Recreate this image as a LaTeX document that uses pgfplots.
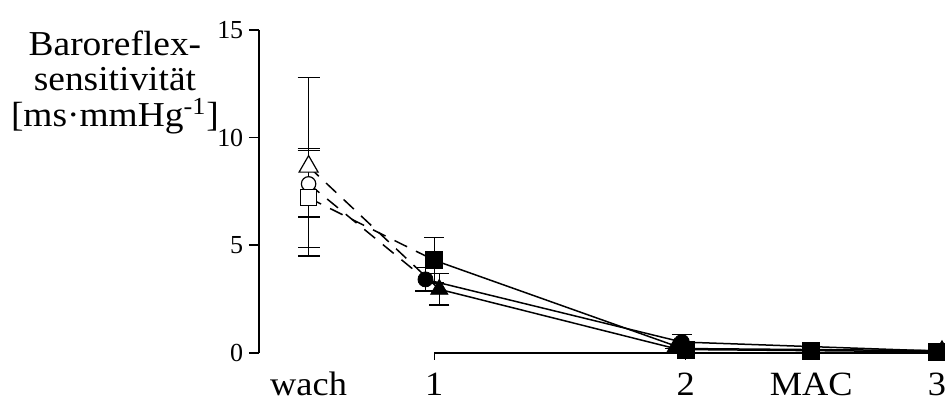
\documentclass[border=0pt]{standalone}
\usepackage{fontspec}
\setmainfont{Liberation Serif}
\newfontfamily\labfont[FakeStretch=1.07]{Liberation Serif}
\usepackage{pgfplots}
\pgfplotsset{compat=1.18}

\begin{document}
\begin{tikzpicture}
\begin{axis}[
    name=bx,
    scale only axis,
    width=343.3pt, height=161.5pt,
    xmin=0.302, xmax=3.032,
    ymin=0, ymax=15,
    axis y line*=left,
    axis x line*=bottom,
    x axis line style={draw=none},
    y axis line style={-, line width=0.75pt},
    tick align=outside,
    every tick/.style={black, line width=0.75pt},
    xtick style={/pgfplots/major tick length=3.5pt},
    ytick style={/pgfplots/major tick length=5pt},
    xtick={1,2,3},
    xticklabels={1,2,3},
    extra x ticks={0.5,2.5},
    extra x tick labels={wach,MAC},
    extra x tick style={every major tick/.append style={draw opacity=0}},
    x tick label style={font=\labfont\fontsize{17}{18}\selectfont, text height=13.5pt, text depth=0pt, anchor=north},
    ytick={0,5,10,15},
    y tick label style={font=\fontsize{13}{15}\selectfont},
    /pgf/number format/assume math mode=true,
    minor tick num=0,
    clip=false,
]
% x axis line only from 1 onwards
\draw[line width=0.75pt] (axis cs:1,0) -- (axis cs:3.032,0);

% connecting lines: dashed wach -> 1, solid afterwards
\addplot[black, line width=0.75pt, dash pattern=on 7pt off 5pt] coordinates {(0.5,8.65) (1.02,2.95)};
\addplot[black, line width=0.75pt, dash pattern=on 7pt off 5pt] coordinates {(0.5,7.85) (0.965,3.41)};
\addplot[black, line width=0.75pt, dash pattern=on 7pt off 5pt] coordinates {(0.5,7.2) (1,4.3)};
\addplot[black, line width=0.75pt] coordinates {(1.02,2.95) (1.957,0.2) (3.02,0.1)};
\addplot[black, line width=0.75pt] coordinates {(0.965,3.41) (1.985,0.5) (3,0.08)};
\addplot[black, line width=0.75pt] coordinates {(1,4.3) (2,0.15) (2.5,0.1) (3,0.05)};

% wach: open markers with error bars
\addplot[black, only marks, mark=*, mark size=3.6pt,
    mark options={fill=white, line width=0.6pt},
    error bars/.cd, y dir=both, y explicit,
    error bar style={line width=0.75pt, solid},
    error mark options={rotate=90, mark size=5.5pt, line width=0.75pt}]
    coordinates {(0.5,7.85) +- (0,1.55)};
\addplot[black, only marks, mark=square*, mark size=4pt,
    mark options={fill=white, line width=0.6pt},
    error bars/.cd, y dir=both, y explicit,
    error bar style={line width=0.75pt, solid},
    error mark options={rotate=90, mark size=5.5pt, line width=0.75pt}]
    coordinates {(0.5,7.2) +- (0,2.3)};
\addplot[black, only marks, mark=triangle*, mark size=5.5pt,
    mark options={fill=white, line width=0.6pt},
    error bars/.cd, y dir=both, y explicit,
    error bar style={line width=0.75pt, solid},
    error mark options={rotate=90, mark size=5.5pt, line width=0.75pt}]
    coordinates {(0.5,8.65) +- (0,4.15)};

% filled markers
\addplot[black, only marks, mark=square*, mark size=4.25pt,
    error bars/.cd, y dir=both, y explicit,
    error bar style={line width=0.75pt, solid},
    error mark options={rotate=90, mark size=5pt, line width=0.75pt}]
    coordinates {(1,4.3) +- (0,1.06) (2,0.15) +- (0,0) (2.5,0.1) +- (0,0) (3,0.05) +- (0,0)};
\addplot[black, only marks, mark=*, mark size=3.75pt,
    error bars/.cd, y dir=both, y explicit,
    error bar style={line width=0.75pt, solid},
    error mark options={rotate=90, mark size=5pt, line width=0.75pt}]
    coordinates {(0.965,3.41) +- (0,0.55) (1.985,0.5) +- (0,0.35) (3,0.08) +- (0,0)};
\addplot[black, only marks, mark=triangle*, mark size=5pt,
    error bars/.cd, y dir=both, y explicit,
    error bar style={line width=0.75pt, solid},
    error mark options={rotate=90, mark size=5pt, line width=0.75pt}]
    coordinates {(1.02,2.95) +- (0,0.73) (1.957,0.2) +- (0,0) (3.02,0.1) +- (0,0)};

\node[align=center, anchor=north, inner sep=0pt, font=\labfont\fontsize{17.5}{18}\selectfont]
    at (rel axis cs:-0.2097,1.0)
    {Baroreflex-\\sensitivität\\{[}ms·mmHg\textsuperscript{-1}{]}};
\end{axis}
\pgfresetboundingbox
\path[use as bounding box] ([xshift=-129.5pt, yshift=-25pt]bx.south west) rectangle ([yshift=15pt]bx.north east);
\end{tikzpicture}
\end{document}
